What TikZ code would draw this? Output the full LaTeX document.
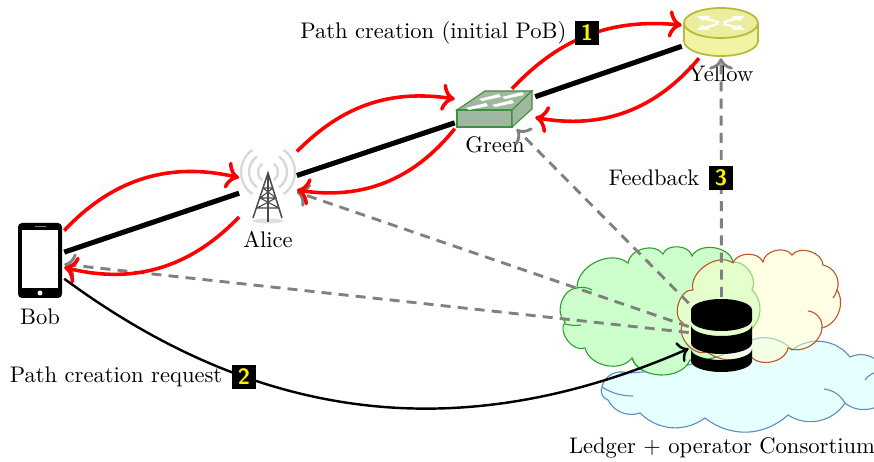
\documentclass[tikz,border=0pt]{standalone}
\usepackage{amsmath}
\usetikzlibrary{positioning, arrows.meta}
\definecolor{greenfill}{HTML}{CCFFCC}
\definecolor{greenedge}{HTML}{2FA02F}
\definecolor{yellowfill}{HTML}{FFFFCC}
\definecolor{yellowedge}{HTML}{B85A28}
\definecolor{bluefill}{HTML}{E6FFFF}
\definecolor{blueedge}{HTML}{5C8FC0}
\definecolor{routerfill}{HTML}{F3F3A6}
\definecolor{routertop}{HTML}{EDEDA0}
\definecolor{routeredge}{HTML}{B9B93C}
\definecolor{switchfill}{HTML}{A0B8A0}
\definecolor{switchedge}{HTML}{3F8F3F}
\begin{document}
\begin{tikzpicture}[
		x=.45pt, y=-.45pt,
		font=\fontsize{10.15}{12}\selectfont,
		>={To[scale=1.15]},
		icon/.style = {inner sep=0pt, outer sep=1pt},
		lbl/.style = {inner sep=0pt},
		numbox/.style = {fill=black, text=yellow, font=\sffamily\bfseries, inner sep=0pt, minimum size=10.8pt},
		link/.style = {line width=2.3pt},
		redpath/.style = {->, red, line width=1.6pt},
		feed/.style = {->, gray, line width=1.3pt, dash pattern=on 4.5pt off 3.2pt},
		request/.style = {->, black, line width=1.1pt},
		cloudgreen/.style = {draw=greenedge, fill=greenfill, line width=.5pt},
		cloudyellow/.style = {draw=yellowedge, fill=yellowfill, fill opacity=.5, line width=.5pt},
		cloudblue/.style = {draw=blueedge, fill=bluefill, line width=.5pt}
	]
	\useasboundingbox (0,0) rectangle (874,462);

	% Clouds.
	\draw[cloudblue] (627,373) to[bend right=50] (602,387) to[bend right=50] (608,400) to[bend right=40] (640,413)
		to[bend right=40] (705,418) to[bend right=40] (788,415) to[bend right=45] (845,403) to[bend right=50] (890,395)
		to[bend right=60] (885,372) to[bend right=50] (850,357) to[bend right=45] (792,350) to[bend right=45] (740,347)
		to[bend left=10] (627,373);
	\draw[blueedge, line width=.5pt] (602,387) to[bend right=15] (633,396);
	\draw[blueedge, line width=.5pt] (824,389) to[bend left=25] (845,403);
	\draw[blueedge, line width=.5pt] (865,380) to[bend left=15] (874,373);
	\draw[cloudgreen] (577,288) to[bend left=65] (628,263) to[bend left=70] (663,254) to[bend left=75] (692,256)
		to[bend left=70] (733,262) to[bend left=60] (752,290) to[bend left=50] (750,330) to[bend left=30] (690,360)
		to[bend left=70] (632,358) to[bend left=65] (585,348) to[bend left=75] (565,322) to[bend left=70] (577,288);
	\draw[greenedge, line width=.5pt] (577,288) to[bend left=20] (592,290);
	\draw[greenedge, line width=.5pt] (565,324) to[bend right=10] (581,325);
	\draw[greenedge, line width=.5pt] (632,358) to[bend right=20] (642,370);
	\draw[cloudyellow] (733,263) to[bend left=70] (763,262) to[bend left=70] (792,255) to[bend left=70] (823,265)
		to[bend left=50] (837,290) to[bend left=55] (822,328) to[bend left=55] (788,348) to[bend left=70] (750,355)
		to[bend left=30] (707,352) to[bend left=70] (683,323) to[bend left=80] (693,290) to[bend left=70] (733,263);
	\draw[yellowedge, line width=.5pt] (837,290) to[bend left=10] (833,298);
	\draw[yellowedge, line width=.5pt] (808,311) to[bend left=45] (822,328);

	% Bob.
	\node[icon, minimum width=19.8pt, minimum height=33.8pt] (bob) at (40,260.5) {};
	\fill[black, rounded corners=1.8pt] (18,223) rectangle (62,298);
	\fill[white] (22,230) rectangle (58,288);
	\draw[gray, line width=.5pt] (35,226.5) -- (46,226.5);
	\fill[white] (40,293) circle (2.5);
	\node[lbl, below=3.5pt of bob] (boblabel) {Bob};

	% Alice.
	\node[icon, minimum width=24pt, minimum height=32pt] (alice) at (268,186) {};
	\foreach \r in {10,19,27} {
		\draw[gray!30, line width=1.1pt] (268,172) ++(125:\r) arc[start angle=125, end angle=235, radius=\r];
		\draw[gray!30, line width=1.1pt] (268,172) ++(-55:\r) arc[start angle=-55, end angle=55, radius=\r];
	}
	\fill[gray!25] (268,221) ellipse (15 and 2.5);
	\draw[black!70, line width=.7pt] (253,218) -- (268,173) -- (282,218);
	\draw[black!70, line width=.9pt] (268,173) -- (268,222);
	\draw[black!70, line width=.5pt] (263,188) -- (273,188) (260,198) -- (276,198) (257,208) -- (279,208)
		(263,188) -- (276,198) (273,188) -- (260,198) (260,198) -- (279,208) (276,198) -- (257,208);
	\node[lbl, below=3pt of alice] (alicelabel) {Alice};

	% Green.
	\node[icon, minimum width=34.2pt, minimum height=16.2pt] (green) at (495,109) {};
	\draw[switchedge, fill=switchfill, line width=.5pt] (457,110) -- (485,91) -- (532,91) -- (512,110) -- cycle;
	\draw[switchedge, fill=switchfill, line width=.5pt] (457,110) rectangle (512,127);
	\draw[switchedge, fill=switchfill, line width=.5pt] (512,110) -- (532,91) -- (532,109) -- (512,127) -- cycle;
	\foreach \px/\py in {490/97, 513/95, 477/106, 503/103} {
		\fill[white] (\px-11,\py+2) -- (\px+9,\py-3) -- (\px+11,\py) -- (\px-8,\py+4) -- cycle;
	}
	\node[lbl, below=3pt of green] (greenlabel) {Green};

	% Yellow.
	\node[icon, minimum width=33.3pt, minimum height=21.6pt] (yellownode) at (721,32) {};
	\draw[routeredge, fill=routerfill, line width=.8pt] (684,23) -- (684,41) arc[start angle=180, end angle=0, x radius=37, y radius=15] -- (758,23);
	\draw[routeredge, fill=routertop, line width=.8pt] (721,23) ellipse (37 and 15);
	\begin{scope}[shift={(721,23)}, yscale=.42]
		\foreach \a in {35,145,215,325} {
			\fill[white, rotate=\a] (3,-2) -- (18,-2.5) -- (18,-7) -- (29,0) -- (18,7) -- (18,2.5) -- (3,2) -- cycle;
		}
	\end{scope}
	\node[lbl, below=3.2pt of yellownode] (yellowlabel) {Yellow};

	% Ledger.
	\node[icon, minimum width=27.5pt, minimum height=33.3pt] (db) at (721.5,336) {};
	\fill[black] (691,310) arc[start angle=180, end angle=360, x radius=30.5, y radius=11] -- (752,320)
		arc[start angle=0, end angle=180, x radius=30.5, y radius=11] -- cycle;
	\fill[black] (691,325) arc[start angle=180, end angle=0, x radius=30.5, y radius=11] -- (752,343)
		arc[start angle=0, end angle=180, x radius=30.5, y radius=11] -- cycle;
	\fill[black] (691,349) arc[start angle=180, end angle=0, x radius=30.5, y radius=11] -- (752,361)
		arc[start angle=0, end angle=180, x radius=30.5, y radius=11] -- cycle;
	\node[lbl, anchor=base] (ledger) at (722,454) {Ledger + operator Consortium};

	% Links.
	\draw[link] (bob.19) -- (alice.194);
	\draw[link] (alice.20) -- (green.199);
	\draw[link] (green.17) -- (yellownode.200);

	% Feedback.
	\draw[feed] (db.135) -- (green.-43);
	\draw[feed] (db.164) -- (alice.-12);
	\draw[feed] (db.174) -- (bob.-9);
	\draw[feed] (db.north) -- (yellownode.south);

	% Path.
	\draw[redpath] (bob.51) to[bend left=30] (alice.164);
	\draw[redpath] (alice.227) to[bend left=30] (bob.-16);
	\draw[redpath] (alice.50) to[bend left=27] (green.166);
	\draw[redpath] (green.206) to[bend left=30] (alice.-8);
	\draw[redpath] (green.50) to[bend left=26] (yellownode.170);
	\draw[redpath] (yellownode.230) to[bend left=30] (green.-12);
	\draw[request] (bob.-37) to[bend right=30] (db.201);

	% Labels.
	\node[numbox] (one) at (587,33) {1};
	\node[lbl, left=3.5pt of one] (oneinfo) {Path creation (initial PoB)};
	\node[numbox] (two) at (244,377) {2};
	\node[lbl, left=4pt of two] (twoinfo) {Path creation request};
	\node[numbox] (three) at (721,178) {3};
	\node[lbl, left=4pt of three] (threeinfo) {Feedback};
\end{tikzpicture}
\end{document}
